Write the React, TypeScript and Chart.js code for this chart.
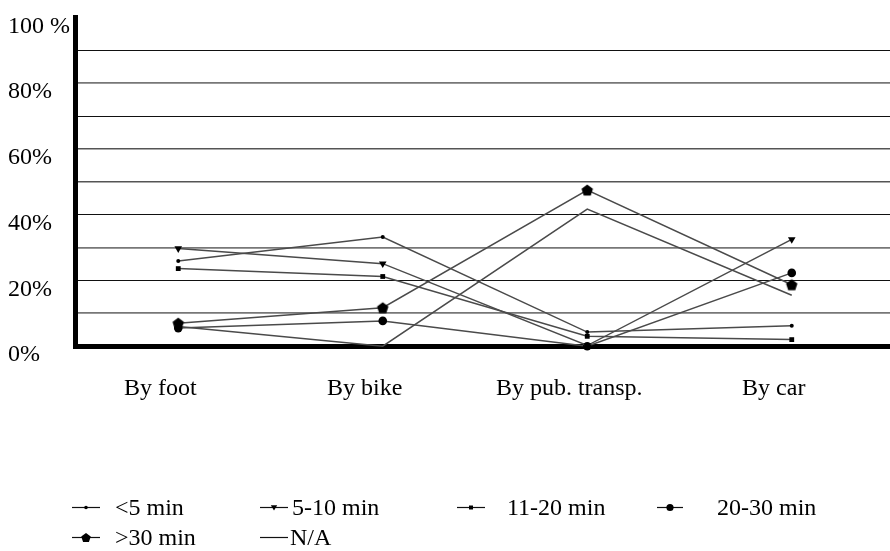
import { useEffect, useRef } from 'react';
import { Chart, registerables } from 'chart.js';

Chart.register(...registerables);

// ---- data ----
const categories = ['By foot', 'By bike', 'By pub. transp.', 'By car'];
const seriesNames = ['<5 min', '5-10 min', '11-20 min', '20-30 min', '>30 min', 'N/A'];
const under5 = [25.9, 33.2, 4.3, 6.2];
const min5to10 = [29.7, 25.1, 0.2, 32.5];
const min11to20 = [23.6, 21.2, 3.0, 2.0];
const min20to30 = [5.5, 7.7, 0, 22.3];
const over30 = [7.0, 11.7, 47.5, 18.7];
const notAvailable = [6.0, 0, 41.7, 15.5];
const yTickValues = [0, 20, 40, 60, 80, 100];
const yTickLabels = ['0%', '20%', '40%', '60%', '80%', '100 %'];

const FONT = "'Liberation Serif', 'Times New Roman', serif";
const LINE = '#4a4a4a';

// legend layout (pixels)
const legendLineX = [72, 260, 457, 657, 72, 260];
const legendLineLen = [28, 28, 28, 26, 28, 28];
const legendTextX = [115, 292, 507, 717, 115, 290];
const legendRowY = [507.5, 507.5, 507.5, 507.5, 537.5, 537.5];

function makePentagon(r: number): HTMLCanvasElement {
  const c = document.createElement('canvas');
  const s = Math.ceil(r * 2) + 2;
  c.width = s;
  c.height = s;
  const ctx = c.getContext('2d')!;
  ctx.fillStyle = '#000';
  ctx.beginPath();
  for (let k = 0; k < 5; k++) {
    const a = -Math.PI / 2 + (k * 2 * Math.PI) / 5;
    const px = s / 2 + r * Math.cos(a);
    const py = s / 2 + r * Math.sin(a) + r * 0.1;
    if (k === 0) ctx.moveTo(px, py);
    else ctx.lineTo(px, py);
  }
  ctx.closePath();
  ctx.fill();
  return c;
}

function drawLegendMarker(ctx: CanvasRenderingContext2D, kind: string, x: number, y: number) {
  ctx.fillStyle = '#000';
  ctx.beginPath();
  if (kind === 'dot') {
    ctx.arc(x, y, 1.8, 0, Math.PI * 2);
  } else if (kind === 'circle') {
    ctx.arc(x, y, 3.6, 0, Math.PI * 2);
  } else if (kind === 'rect') {
    ctx.rect(x - 2, y - 2, 4, 4);
  } else if (kind === 'triangle') {
    ctx.moveTo(x - 3.2, y - 2.2);
    ctx.lineTo(x + 3.2, y - 2.2);
    ctx.lineTo(x, y + 3);
    ctx.closePath();
  } else if (kind === 'pentagon') {
    const r = 5;
    for (let k = 0; k < 5; k++) {
      const a = -Math.PI / 2 + (k * 2 * Math.PI) / 5;
      const px = x + r * Math.cos(a);
      const py = y + r * Math.sin(a) + 0.5;
      if (k === 0) ctx.moveTo(px, py);
      else ctx.lineTo(px, py);
    }
    ctx.closePath();
  } else {
    return;
  }
  ctx.fill();
}

const legendKinds = ['dot', 'triangle', 'rect', 'circle', 'pentagon', 'none'];

const legendPlugin = {
  id: 'customLegend',
  afterDraw(chart: any) {
    const ctx: CanvasRenderingContext2D = chart.ctx;
    ctx.save();
    ctx.font = `24px ${FONT}`;
    ctx.textBaseline = 'middle';
    ctx.textAlign = 'left';
    chart.data.datasets.forEach((ds: any, i: number) => {
      const x0 = legendLineX[i];
      const y = legendRowY[i];
      ctx.strokeStyle = '#111';
      ctx.lineWidth = 1.2;
      ctx.beginPath();
      ctx.moveTo(x0, y);
      ctx.lineTo(x0 + legendLineLen[i], y);
      ctx.stroke();
      drawLegendMarker(ctx, legendKinds[i], x0 + legendLineLen[i] / 2, y);
      ctx.fillStyle = '#000';
      ctx.fillText(ds.label, legendTextX[i], y + 1);
    });
    ctx.restore();
  },
};

const gridStyle: Record<number, [string, number]> = {
  10: ['#777', 1.8],
  20: ['#111', 1],
  30: ['#777', 1.8],
  40: ['#111', 1],
  50: ['#555', 1.5],
  60: ['#555', 1.5],
  70: ['#111', 1],
  80: ['#777', 1.8],
  90: ['#111', 1],
};

export default function App() {
  const ref = useRef<HTMLCanvasElement>(null);

  useEffect(() => {
    const pentagon = makePentagon(6);
    const base = {
      borderColor: LINE,
      borderWidth: 1.5,
      pointBackgroundColor: '#000',
      pointBorderColor: '#000',
      pointBorderWidth: 0,
      clip: false as const,
      tension: 0,
    };
    const chart = new Chart(ref.current!, {
      type: 'line',
      data: {
        labels: categories,
        datasets: [
          { ...base, label: seriesNames[0], data: under5, pointStyle: 'circle', pointRadius: 2 },
          { ...base, label: seriesNames[1], data: min5to10, pointStyle: 'triangle', pointRadius: 4.4, pointRotation: 180 },
          { ...base, label: seriesNames[2], data: min11to20, pointStyle: 'rect', pointRadius: 3.4 },
          { ...base, label: seriesNames[3], data: min20to30, pointStyle: 'circle', pointRadius: 4.3 },
          { ...base, label: seriesNames[4], data: over30, pointStyle: pentagon as any, pointRadius: 6 },
          { ...base, label: seriesNames[5], data: notAvailable, pointRadius: 0 },
        ],
      },
      options: {
        responsive: false,
        animation: false,
        events: [],
        layout: { padding: { top: 5.6, left: 8, right: 0, bottom: 120 } },
        plugins: {
          legend: { display: false },
          tooltip: { enabled: false },
        },
        scales: {
          x: {
            type: 'category',
            offset: true,
            grid: { display: false, drawTicks: false },
            border: { display: true, color: '#000', width: 5 },
            ticks: {
              color: '#000',
              font: { family: FONT, size: 24 },
              padding: 28,
              labelOffset: -18,
              maxRotation: 0,
              autoSkip: false,
            },
          },
          y: {
            min: 0,
            max: 100,
            grid: {
              drawTicks: false,
              color: (c: any) => {
                const v = c.tick ? c.tick.value : 0;
                return gridStyle[v] ? gridStyle[v][0] : 'rgba(0,0,0,0)';
              },
              lineWidth: (c: any) => {
                const v = c.tick ? c.tick.value : 0;
                return gridStyle[v] ? gridStyle[v][1] : 0;
              },
            },
            border: { display: true, color: '#000', width: 5 },
            ticks: {
              stepSize: 10,
              autoSkip: false,
              color: '#000',
              font: { family: FONT, size: 24 },
              padding: 3,
              crossAlign: 'far',
              labelOffset: 9,
              callback: (v: any) => {
                const idx = yTickValues.indexOf(Number(v));
                return idx >= 0 ? yTickLabels[idx] : '';
              },
            },
          },
        },
      },
      plugins: [legendPlugin],
    });
    return () => chart.destroy();
  }, []);

  return (
    <div
      style={{
        position: 'fixed',
        left: 0,
        top: 0,
        width: 890,
        height: 551,
        overflow: 'hidden',
        background: '#fff',
      }}
    >
      <canvas ref={ref} width={900} height={551} style={{ display: 'block', width: 900, height: 551 }} />
    </div>
  );
}
